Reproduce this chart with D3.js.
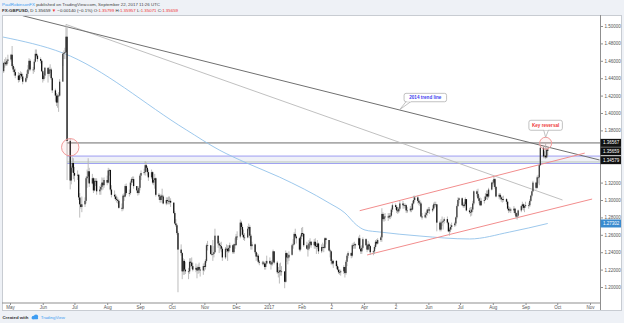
<!DOCTYPE html>
<html><head><meta charset="utf-8">
<script src="https://cdn.jsdelivr.net/npm/d3@7"></script>
<style>
html,body{margin:0;padding:0;background:#fff;}
svg{display:block;font-family:"Liberation Sans",Arial,sans-serif;}
</style></head><body>
<svg id="chart" width="624" height="323"></svg>
<script>
// ---------- DATA (daily bars: [high, low, close]; open = previous close) ----------
const firstOpen = 1.4480;
const m2016_04 = [[1.4590,1.4460,1.4575],[1.4620,1.4520,1.4580],[1.4640,1.4540,1.4560],[1.4620,1.4540,1.4600],[1.4670,1.4570,1.4615]];
const m2016_05 = [[1.4680,1.4590,1.4670],[1.4770,1.4520,1.4540],[1.4560,1.4470,1.4500],[1.4530,1.4430,1.4470],[1.4510,1.4400,1.4430],
  [1.4470,1.4350,1.4380],[1.4460,1.4360,1.4435],[1.4480,1.4400,1.4450],[1.4470,1.4390,1.4420],[1.4450,1.4330,1.4360],
  [1.4420,1.4350,1.4400],[1.4490,1.4380,1.4450],[1.4550,1.4420,1.4500],[1.4630,1.4480,1.4600],[1.4620,1.4480,1.4500],
  [1.4530,1.4450,1.4500],[1.4620,1.4470,1.4590],[1.4730,1.4580,1.4680],[1.4730,1.4640,1.4660],[1.4680,1.4590,1.4620],
  [1.4640,1.4570,1.4600],[1.4610,1.4470,1.4480]];
const m2016_06 = [[1.4490,1.4350,1.4390],[1.4460,1.4370,1.4430],[1.4530,1.4400,1.4520],
  [1.4500,1.4350,1.4450],[1.4530,1.4420,1.4500],[1.4560,1.4460,1.4500],[1.4520,1.4380,1.4400],[1.4410,1.4230,1.4260],
  [1.4280,1.4130,1.4200],[1.4230,1.4080,1.4120],[1.4220,1.4060,1.4200],[1.4240,1.4013,1.4200],[1.4390,1.4190,1.4360],
  [1.4700,1.4540,1.4680],[1.4720,1.4620,1.4690],[1.4750,1.4620,1.4700],[1.5018,1.4690,1.4877],[1.5000,1.3229,1.3679],
  [1.3710,1.3122,1.3224],[1.3390,1.3180,1.3373],[1.3490,1.3320,1.3425],[1.3480,1.3240,1.3311]];
const m2016_07 = [[1.3380,1.3210,1.3280],
  [1.3340,1.3230,1.3290],[1.3300,1.3000,1.3030],[1.3080,1.2798,1.2950],[1.3020,1.2900,1.2920],[1.3040,1.2860,1.2950],
  [1.3030,1.2920,1.2990],[1.3270,1.2960,1.3250],[1.3350,1.3140,1.3270],[1.3480,1.3200,1.3330],[1.3370,1.3150,1.3190],
  [1.3300,1.3180,1.3250],[1.3260,1.3080,1.3110],[1.3250,1.3100,1.3220],[1.3250,1.3160,1.3220],[1.3250,1.3060,1.3100],
  [1.3160,1.3060,1.3120],[1.3180,1.3060,1.3150],[1.3260,1.3110,1.3200],[1.3250,1.3120,1.3170],[1.3260,1.3140,1.3230]];
const m2016_08 = [[1.3280,1.3170,1.3200],[1.3370,1.3190,1.3340],[1.3360,1.3280,1.3345],[1.3350,1.3100,1.3120],[1.3170,1.3030,1.3060],
  [1.3110,1.3010,1.3040],[1.3070,1.2990,1.3010],[1.3050,1.2970,1.3000],[1.3030,1.2960,1.2990],[1.3010,1.2900,1.2910],
  [1.2960,1.2870,1.2900],[1.3070,1.2880,1.3050],[1.3080,1.2990,1.3040],[1.3180,1.3030,1.3160],[1.3190,1.3060,1.3080],
  [1.3120,1.3040,1.3080],[1.3220,1.3060,1.3200],[1.3260,1.3170,1.3240],[1.3270,1.3200,1.3240],[1.3270,1.3130,1.3160],
  [1.3160,1.3080,1.3110],[1.3120,1.3050,1.3080],[1.3160,1.3060,1.3140]];
const m2016_09 = [[1.3300,1.3110,1.3280],[1.3340,1.3230,1.3310],
  [1.3360,1.3290,1.3320],[1.3445,1.3280,1.3400],[1.3430,1.3330,1.3370],[1.3390,1.3280,1.3320],[1.3350,1.3220,1.3260],
  [1.3350,1.3240,1.3320],[1.3330,1.3180,1.3200],[1.3250,1.3170,1.3230],[1.3300,1.3130,1.3250],[1.3260,1.3040,1.3060],
  [1.3080,1.3000,1.3040],[1.3060,1.2970,1.3000],[1.3070,1.2970,1.3050],[1.3130,1.3020,1.3040],[1.3060,1.2950,1.2960],
  [1.3030,1.2940,1.3000],[1.3030,1.2950,1.2990],[1.3040,1.2950,1.2990],[1.3040,1.2950,1.2990],[1.3020,1.2920,1.2970]];
const m2016_10 = [[1.2970,1.2840,1.2850],[1.2870,1.2720,1.2730],[1.2780,1.2690,1.2710],[1.2730,1.2600,1.2620],[1.2640,1.1940,1.2430],
  [1.2490,1.2360,1.2390],[1.2400,1.2090,1.2180],[1.2330,1.2140,1.2300],[1.2320,1.2140,1.2200],[1.2290,1.2150,1.2180],
  [1.2220,1.2090,1.2180],[1.2330,1.2150,1.2290],[1.2330,1.2230,1.2280],[1.2340,1.2210,1.2240],[1.2280,1.2180,1.2200],
  [1.2270,1.2170,1.2220],[1.2240,1.2100,1.2190],[1.2260,1.2150,1.2230],[1.2280,1.2160,1.2200],[1.2230,1.2120,1.2190],
  [1.2270,1.2140,1.2240]];
const m2016_11 = [[1.2280,1.2180,1.2230],[1.2320,1.2200,1.2300],[1.2500,1.2280,1.2480],[1.2530,1.2420,1.2480],
  [1.2480,1.2370,1.2380],[1.2470,1.2360,1.2380],[1.2540,1.2300,1.2380],[1.2470,1.2340,1.2400],[1.2670,1.2390,1.2590],
  [1.2590,1.2450,1.2500],[1.2530,1.2390,1.2480],[1.2510,1.2420,1.2470],[1.2520,1.2400,1.2440],[1.2460,1.2300,1.2340],
  [1.2460,1.2320,1.2440],[1.2490,1.2400,1.2440],[1.2480,1.2300,1.2410],[1.2480,1.2390,1.2450],[1.2510,1.2410,1.2480],
  [1.2490,1.2380,1.2400],[1.2500,1.2380,1.2490],[1.2560,1.2440,1.2480]];
const m2016_12 = [[1.2610,1.2480,1.2580],[1.2640,1.2540,1.2580],
  [1.2775,1.2560,1.2740],[1.2760,1.2660,1.2690],[1.2720,1.2580,1.2600],[1.2660,1.2540,1.2570],[1.2620,1.2530,1.2570],
  [1.2700,1.2560,1.2670],[1.2730,1.2650,1.2690],[1.2710,1.2560,1.2590],[1.2610,1.2430,1.2470],[1.2520,1.2430,1.2490],
  [1.2500,1.2380,1.2400],[1.2410,1.2300,1.2350],[1.2390,1.2310,1.2360],[1.2380,1.2270,1.2290],[1.2310,1.2250,1.2280],
  [1.2300,1.2250,1.2280],[1.2300,1.2250,1.2270],[1.2290,1.2200,1.2230],[1.2300,1.2200,1.2270],[1.2360,1.2260,1.2300]];
const m2017_01 = [[1.2340,1.2260,1.2270],[1.2300,1.2200,1.2260],[1.2310,1.2240,1.2290],[1.2430,1.2280,1.2410],[1.2410,1.2260,1.2280],
  [1.2300,1.2150,1.2170],[1.2230,1.2110,1.2170],[1.2270,1.2040,1.2190],[1.2280,1.2130,1.2180],[1.2240,1.2130,1.2180],
  [1.2130,1.1986,1.2060],[1.2420,1.2050,1.2390],[1.2400,1.2290,1.2340],[1.2380,1.2260,1.2340],[1.2410,1.2300,1.2370],
  [1.2500,1.2360,1.2480],[1.2550,1.2440,1.2490],[1.2630,1.2480,1.2610],[1.2670,1.2560,1.2580],[1.2600,1.2500,1.2560],
  [1.2570,1.2410,1.2430],[1.2600,1.2410,1.2580]];
const m2017_02 = [[1.2680,1.2550,1.2620],[1.2690,1.2580,1.2610],[1.2620,1.2460,1.2480],
  [1.2520,1.2430,1.2440],[1.2500,1.2350,1.2440],[1.2540,1.2420,1.2500],[1.2560,1.2460,1.2520],[1.2530,1.2450,1.2480],
  [1.2550,1.2440,1.2520],[1.2560,1.2440,1.2470],[1.2510,1.2380,1.2460],[1.2540,1.2440,1.2500],[1.2510,1.2380,1.2410],
  [1.2490,1.2390,1.2460],[1.2510,1.2430,1.2460],[1.2490,1.2400,1.2450],[1.2570,1.2440,1.2560],[1.2570,1.2490,1.2540],
  [1.2540,1.2410,1.2420],[1.2440,1.2340,1.2410]];
const m2017_03 = [[1.2420,1.2260,1.2300],[1.2320,1.2250,1.2270],[1.2310,1.2220,1.2300],
  [1.2310,1.2210,1.2240],[1.2260,1.2190,1.2200],[1.2230,1.2150,1.2170],[1.2200,1.2140,1.2170],[1.2200,1.2130,1.2180],
  [1.2250,1.2150,1.2230],[1.2230,1.2109,1.2160],[1.2310,1.2140,1.2290],[1.2380,1.2240,1.2360],[1.2410,1.2330,1.2390],
  [1.2400,1.2330,1.2360],[1.2500,1.2340,1.2480],[1.2510,1.2440,1.2480],[1.2520,1.2440,1.2490],[1.2500,1.2440,1.2480],
  [1.2580,1.2480,1.2560],[1.2600,1.2430,1.2440],[1.2470,1.2380,1.2410],[1.2480,1.2380,1.2450],[1.2570,1.2430,1.2550]];
const m2017_04 = [[1.2560,1.2470,1.2480],[1.2500,1.2400,1.2430],[1.2530,1.2420,1.2490],[1.2510,1.2430,1.2470],[1.2480,1.2370,1.2400],
  [1.2420,1.2365,1.2410],[1.2480,1.2380,1.2460],[1.2540,1.2440,1.2520],[1.2550,1.2480,1.2500],[1.2560,1.2490,1.2540],
  [1.2590,1.2520,1.2570],[1.2905,1.2520,1.2840],[1.2860,1.2760,1.2780],[1.2840,1.2750,1.2810],[1.2850,1.2760,1.2810],
  [1.2850,1.2760,1.2800],[1.2850,1.2780,1.2820],[1.2850,1.2780,1.2820],[1.2910,1.2800,1.2890],[1.2960,1.2860,1.2940]];
const m2017_05 = [[1.2960,1.2890,1.2920],[1.2940,1.2850,1.2880],[1.2920,1.2840,1.2870],[1.2920,1.2850,1.2900],[1.2990,1.2880,1.2960],
  [1.2990,1.2900,1.2940],[1.2960,1.2900,1.2940],[1.2960,1.2910,1.2940],[1.2950,1.2850,1.2880],[1.2920,1.2850,1.2880],
  [1.2930,1.2860,1.2900],[1.2960,1.2860,1.2890],[1.2990,1.2880,1.2960],[1.3048,1.2950,1.3000],[1.3050,1.2980,1.3030],
  [1.3050,1.2960,1.2990],[1.3010,1.2940,1.2970],[1.3000,1.2930,1.2960],[1.2980,1.2800,1.2810],[1.2850,1.2775,1.2800],
  [1.2860,1.2790,1.2830],[1.2870,1.2790,1.2850],[1.2900,1.2820,1.2890]];
const m2017_06 = [[1.2920,1.2850,1.2890],[1.2920,1.2840,1.2880],
  [1.2940,1.2860,1.2900],[1.2970,1.2880,1.2950],[1.2980,1.2910,1.2950],[1.2980,1.2920,1.2950],[1.2950,1.2640,1.2740],
  [1.2760,1.2640,1.2660],[1.2780,1.2640,1.2740],[1.2810,1.2700,1.2750],[1.2770,1.2660,1.2760],[1.2800,1.2730,1.2780],
  [1.2810,1.2720,1.2740],[1.2750,1.2630,1.2640],[1.2680,1.2590,1.2660],[1.2720,1.2630,1.2690],[1.2740,1.2660,1.2710],
  [1.2750,1.2690,1.2730],[1.2810,1.2700,1.2800],[1.2950,1.2780,1.2930],[1.3030,1.2920,1.3000],[1.3030,1.2960,1.3020]];
const m2017_07 = [[1.3030,1.2930,1.2940],[1.2970,1.2910,1.2930],[1.2980,1.2910,1.2950],[1.3030,1.2930,1.3010],[1.3010,1.2870,1.2880],
  [1.2910,1.2840,1.2860],[1.2920,1.2810,1.2860],[1.2920,1.2820,1.2890],[1.2990,1.2860,1.2960],[1.3110,1.2940,1.3100],
  [1.3120,1.3040,1.3070],[1.3130,1.3010,1.3020],[1.3050,1.2960,1.2990],[1.3030,1.2930,1.2940],[1.3020,1.2930,1.2990],
  [1.3040,1.2960,1.3000],[1.3080,1.2990,1.3040],[1.3110,1.3010,1.3070],[1.3110,1.3000,1.3040],[1.3140,1.3020,1.3120],
  [1.3210,1.3110,1.3200]];
const m2017_08 = [[1.3230,1.3150,1.3200],[1.3267,1.3170,1.3240],[1.3250,1.3130,1.3150],[1.3160,1.3030,1.3040],
  [1.3080,1.3010,1.3060],[1.3080,1.3000,1.3030],[1.3050,1.2980,1.3010],[1.3040,1.2970,1.3000],[1.3050,1.2980,1.3010],
  [1.3020,1.2950,1.2980],[1.2990,1.2880,1.2900],[1.2930,1.2850,1.2880],[1.2920,1.2860,1.2890],[1.2910,1.2850,1.2880],
  [1.2930,1.2850,1.2900],[1.2910,1.2830,1.2850],[1.2860,1.2790,1.2810],[1.2850,1.2774,1.2820],[1.2890,1.2800,1.2880],
  [1.2940,1.2860,1.2930],[1.2980,1.2890,1.2950],[1.2960,1.2880,1.2910],[1.2950,1.2860,1.2930]];
const m2017_09 = [[1.2980,1.2910,1.2940],
  [1.2970,1.2900,1.2940],[1.3010,1.2920,1.2990],[1.3060,1.2980,1.3050],[1.3110,1.3030,1.3100],[1.3220,1.3090,1.3200],
  [1.3210,1.3120,1.3140],[1.3280,1.3130,1.3260],[1.3290,1.3190,1.3260],[1.3410,1.3170,1.3400],[1.3620,1.3390,1.3600],
  [1.3620,1.3480,1.3500],[1.3560,1.3480,1.3510],[1.36567,1.3470,1.3490],[1.3600,1.3480,1.3580],[1.35957,1.35071,1.35659]];
const monthStarts = ["2016-04-25","2016-05-02","2016-06-01","2016-07-01","2016-08-01","2016-09-01","2016-10-03","2016-11-01","2016-12-01",
  "2017-01-02","2017-02-01","2017-03-01","2017-04-03","2017-05-01","2017-06-01","2017-07-03","2017-08-01","2017-09-01"];
const monthBars = [m2016_04,m2016_05,m2016_06,m2016_07,m2016_08,m2016_09,m2016_10,m2016_11,m2016_12,
  m2017_01,m2017_02,m2017_03,m2017_04,m2017_05,m2017_06,m2017_07,m2017_08,m2017_09];

// moving average
const maDates  = ["2016-04-24","2016-06-20","2016-10-15","2016-11-15","2016-12-11","2017-01-11","2017-02-27","2017-03-14","2017-03-25","2017-04-02","2017-04-16","2017-05-24","2017-07-10","2017-08-17","2017-09-22"];
const maValues = [1.4874,1.4690,1.3805,1.3575,1.3425,1.3264,1.2966,1.2851,1.2713,1.2655,1.2632,1.2586,1.2552,1.2632,1.27302];

// drawn lines
const trend2014    = [["2016-05-13",1.5118],["2017-11-10",1.3460]];
const trendLight   = [["2016-06-23",1.5018],["2017-10-06",1.3000]];
const channelUpper = [["2017-03-28",1.2877],["2017-10-27",1.3539]];
const channelLower = [["2017-04-04",1.2368],["2017-11-03",1.3011]];
const levelStart = "2016-06-24";
const resistance = 1.36567;
const zoneTop = 1.3505, zoneMid = 1.34579, zoneBottom = 1.3420;
const brexitCircle = ["2016-06-27",1.3606];
const reversalCircle = ["2017-09-20",1.3652];
const trendLabelDate = "2017-05-05";

// axes
const yTicks = [1.20,1.22,1.24,1.26,1.28,1.30,1.32,1.38,1.40,1.42,1.44,1.46,1.48,1.50];
const xTickDates  = ["2016-05-01","2016-06-01","2016-07-01","2016-08-01","2016-09-01","2016-10-01","2016-11-01","2016-12-01","2017-01-01","2017-02-01","2017-03-01","2017-04-01","2017-05-01","2017-06-01","2017-07-01","2017-08-01","2017-09-01","2017-10-01","2017-11-01"];
const xTickLabels = ["May","Jun","Jul","Aug","Sep","Oct","Nov","Dec","2017","Feb","2","Apr","2","Jun","Jul","Aug","Sep","Oct","Nov"];
const flagValues = [1.36567,1.35659,1.34579];
const maFlagValue = 1.27302;

// ---------- BUILD ----------
const parse = d3.timeParse("%Y-%m-%d");
const candles = [];
let prev = firstOpen;
monthStarts.forEach((s,i)=>{
  let d = parse(s);
  monthBars[i].forEach(b=>{
    while (d.getDay()===0 || d.getDay()===6) d = d3.timeDay.offset(d,1);
    candles.push({date:d, open:prev, high:b[0], low:b[1], close:b[2]});
    prev = b[2];
    d = d3.timeDay.offset(d,1);
  });
});
candles[candles.length-1].open = 1.35799;

const svg = d3.select("#chart");
const W=624,H=323;
const L=2, R=600, T=15, B=302.5;
const x = d3.scaleTime().domain([parse("2016-05-01"), parse("2017-11-01")]).range([10,590]);
const y = d3.scaleLinear().domain([1.30,1.50]).range([200,26]);

svg.append("rect").attr("width",W).attr("height",H).attr("fill","#eef1f6");
svg.append("rect").attr("x",L+0.5).attr("y",T+0.5).attr("width",619).attr("height",295).attr("fill","#fff").attr("stroke","#c8ccd2");

const defs = svg.append("defs");
defs.append("clipPath").attr("id","plot").append("rect").attr("x",L+1).attr("y",T+1).attr("width",R-L-1).attr("height",B-T-1);
const g = svg.append("g").attr("clip-path","url(#plot)");

const pt = p => [x(parse(p[0])), y(p[1])];
const seg = (arr,color,w) => g.append("line")
  .attr("x1",pt(arr[0])[0]).attr("y1",pt(arr[0])[1]).attr("x2",pt(arr[1])[0]).attr("y2",pt(arr[1])[1])
  .attr("stroke",color).attr("stroke-width",w);

// zone
const xs = x(parse(levelStart));
g.append("rect").attr("x",xs).attr("y",y(zoneTop)).attr("width",R-xs).attr("height",y(zoneBottom)-y(zoneTop)).attr("fill","#eff1f8");
g.append("line").attr("x1",xs).attr("x2",R).attr("y1",y(zoneMid)+1.5).attr("y2",y(zoneMid)+1.5).attr("stroke","#c9ccc9").attr("stroke-width",0.8);
g.append("line").attr("x1",xs).attr("x2",R).attr("y1",y(zoneBottom)-1).attr("y2",y(zoneBottom)-1).attr("stroke","#cfe3cf").attr("stroke-width",0.8);
[zoneTop,zoneBottom].forEach(v=>g.append("line").attr("x1",xs).attr("x2",R).attr("y1",y(v)).attr("y2",y(v)).attr("stroke","#9d9df2").attr("stroke-width",1));
// resistance
g.append("line").attr("x1",xs).attr("x2",R).attr("y1",y(resistance)).attr("y2",y(resistance)).attr("stroke","#ababab").attr("stroke-width",1.6);

// MA
g.append("path").datum(maDates.map((d,i)=>[parse(d),maValues[i]]))
  .attr("d",d3.line().x(d=>x(d[0])).y(d=>y(d[1])).curve(d3.curveMonotoneX))
  .attr("fill","none").attr("stroke","#92c2ea").attr("stroke-width",0.9);

// trend lines
seg(trendLight,"#b9b9b9",0.9);
seg(trend2014,"#707070",1);
seg(channelUpper,"#f28d8d",1);
seg(channelLower,"#f28d8d",1);

// candles
g.selectAll(".wick").data(candles).join("line").attr("class","wick")
  .attr("x1",d=>x(d.date)).attr("x2",d=>x(d.date)).attr("y1",d=>y(d.high)).attr("y2",d=>y(d.low))
  .attr("stroke","#b4b4b4").attr("stroke-width",0.9);
g.selectAll(".body").data(candles).join("rect").attr("class","body")
  .attr("x",d=>x(d.date)-0.65).attr("width",1.3)
  .attr("y",d=>y(Math.max(d.open,d.close)))
  .attr("height",d=>Math.max(0.8,Math.abs(y(d.open)-y(d.close))))
  .attr("fill",d=>d.close>=d.open?"#3a3a3a":"#111");

// circles
[[brexitCircle,8.7],[reversalCircle,6]].forEach(([c,r])=>{
  const p = pt(c);
  g.append("circle").attr("cx",p[0]).attr("cy",p[1]).attr("r",r)
    .attr("fill","rgba(240,120,120,0.07)").attr("stroke","#f29a9a").attr("stroke-width",1);
});

// callouts
function callout(ax, ay, cx, cy, w, h, text, color, tailDx){
  const c = svg.append("g");
  const bx = cx-w/2, by = cy-h/2;
  c.append("path").attr("d",`M${cx+tailDx-2},${by+h-0.5} L${ax},${ay} L${cx+tailDx+3},${by+h-0.5}`)
    .attr("fill","#fff").attr("stroke","#a8a8a8").attr("stroke-width",0.7);
  c.append("rect").attr("x",bx).attr("y",by).attr("width",w).attr("height",h).attr("rx",2)
    .attr("fill","#fff").attr("stroke","#a8a8a8").attr("stroke-width",0.7);
  c.append("path").attr("d",`M${cx+tailDx-1.6},${by+h-0.6} L${cx+tailDx+2.6},${by+h-0.6}`).attr("stroke","#fff").attr("stroke-width",1);
  c.append("text").attr("x",cx).attr("y",cy+1.6).attr("text-anchor","middle")
    .attr("font-size",4.6).attr("font-weight","bold").attr("fill",color).text(text);
}
{
  const d0 = parse(trend2014[0][0]), d1 = parse(trend2014[1][0]), dl = parse(trendLabelDate);
  const t = (dl-d0)/(d1-d0);
  const v = trend2014[0][1] + t*(trend2014[1][1]-trend2014[0][1]);
  const ax = x(dl), ay = y(v);
  callout(ax, ay-0.5, ax+25.5, ay-12.5, 42.5, 8.4, "2014 trend line", "#3f3ff0", -17);
  const rc = pt(reversalCircle);
  callout(rc[0], rc[1]-6, rc[0], rc[1]-18, 33.5, 10, "Key reversal", "#ee3b3b", 0);
}

// axes lines
svg.append("line").attr("x1",R+0.5).attr("x2",R+0.5).attr("y1",T).attr("y2",310).attr("stroke","#8f8f8f");
svg.append("line").attr("x1",L).attr("x2",R).attr("y1",B+0.5).attr("y2",B+0.5).attr("stroke","#8f8f8f");

// y axis
const yAxis = d3.axisRight(y).tickValues(yTicks).tickSize(2.5).tickPadding(1.5).tickFormat(d3.format(".5f"));
const ya = svg.append("g").attr("transform",`translate(${R+0.5},0)`).call(yAxis);
ya.select(".domain").remove();
ya.selectAll("line").attr("stroke","#8f8f8f");
ya.selectAll("text").attr("font-size",4.5).attr("fill","#555").attr("font-family","Liberation Sans, Arial, sans-serif");

// flags
const flags = flagValues.map(v=>({v, y:y(v), bg:"#111"})).concat([{v:maFlagValue,y:y(maFlagValue),bg:"#3a8bcf"}]);
flags.sort((a,b)=>a.y-b.y);
for (let i=1;i<flags.length;i++) if (flags[i].y - flags[i-1].y < 8.4) flags[i].y = flags[i-1].y + 8.4;
flags.forEach(f=>{
  svg.append("rect").attr("x",R+0.5).attr("y",f.y-4).attr("width",20.5).attr("height",8).attr("fill",f.bg);
  svg.append("text").attr("x",R+3).attr("y",f.y+1.6).attr("font-size",4.5).attr("fill","#fff").text(d3.format(".5f")(f.v));
});

// x axis
const xAxis = d3.axisBottom(x).tickValues(xTickDates.map(parse)).tickSize(2).tickPadding(1.3)
  .tickFormat((d,i)=>xTickLabels[i]);
const xa = svg.append("g").attr("transform",`translate(0,${B+0.5})`).call(xAxis);
xa.select(".domain").remove();
xa.selectAll("line").attr("stroke","#8f8f8f");
xa.selectAll("text").attr("font-size",4.5).attr("fill","#555").attr("font-family","Liberation Sans, Arial, sans-serif");

// header
const h1 = svg.append("text").attr("x",2).attr("y",6).attr("font-size",4.4).attr("fill","#444");
h1.append("tspan").attr("fill","#3d9cf2").text("PaulRobinsonFX");
h1.append("tspan").text(" published on TradingView.com, September 22, 2017 11:26 UTC");
const h2 = svg.append("text").attr("x",2).attr("y",12.2).attr("font-size",4.4).attr("fill","#333");
h2.append("tspan").attr("font-weight","bold").text("FX:GBPUSD,");
h2.append("tspan").text(" D 1.35659 ");
h2.append("tspan").attr("fill","#e33").text("▼");
h2.append("tspan").text(" −0.00140 (−0.1%) O:");
h2.append("tspan").attr("fill","#e33").text("1.35799");
h2.append("tspan").text(" H:");
h2.append("tspan").attr("fill","#e33").text("1.35957");
h2.append("tspan").text(" L:");
h2.append("tspan").attr("fill","#e33").text("1.35071");
h2.append("tspan").text(" C:");
h2.append("tspan").attr("fill","#e33").text("1.35659");

// footer
svg.append("text").attr("x",2.5).attr("y",319).attr("font-size",4.3).attr("font-weight","bold").attr("fill","#333").text("Created with");
const logo = svg.append("g").attr("transform","translate(31,314.5)").attr("fill","#3d9cf2");
logo.append("circle").attr("cx",2.5).attr("cy",3).attr("r",1.8);
logo.append("circle").attr("cx",5).attr("cy",2.2).attr("r",2.2);
logo.append("rect").attr("x",0.7).attr("y",3).attr("width",6.4).attr("height",1.8).attr("rx",0.8);
svg.append("text").attr("x",40.7).attr("y",319).attr("font-size",4.4).attr("fill","#3d9cf2").text("TradingView");
</script></body></html>
